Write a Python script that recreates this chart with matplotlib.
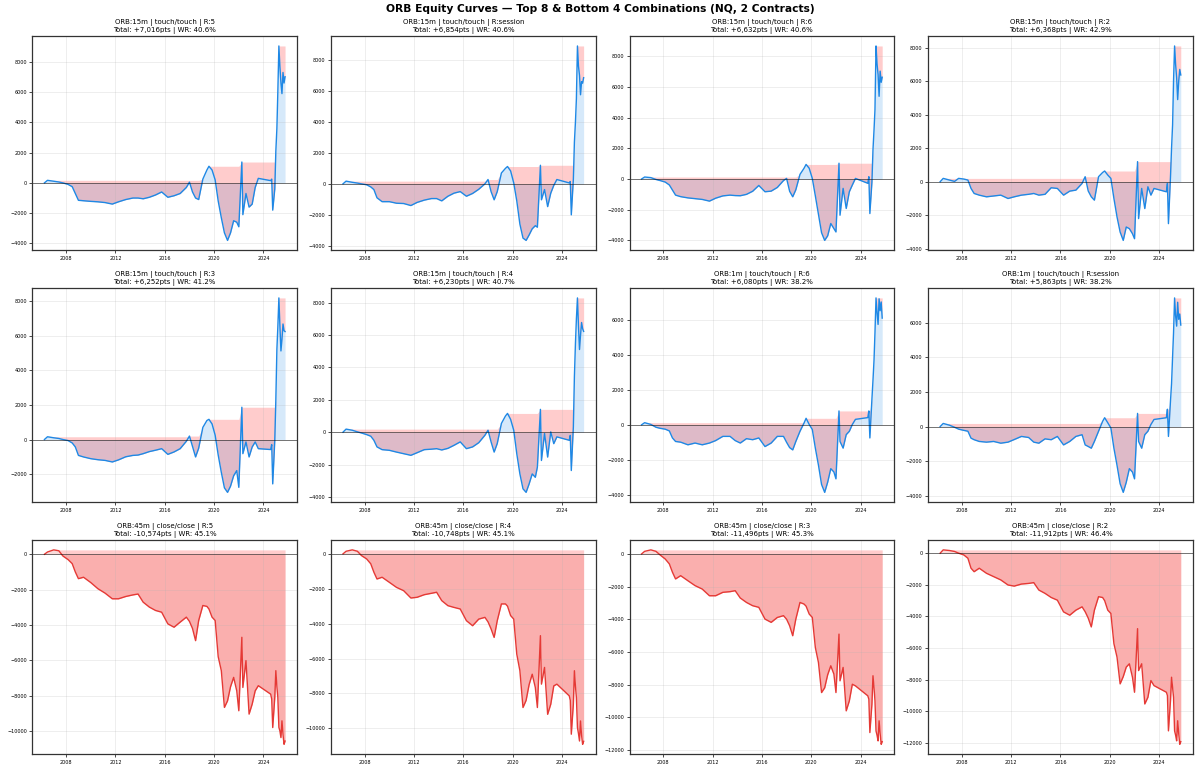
import numpy as np
import pandas as pd
import matplotlib
matplotlib.use('Agg')
import matplotlib.pyplot as plt
import matplotlib.dates as mdates

# Shared sample dates (month resolution)
dates = ['2006-04', '2006-07', '2007-01', '2007-06', '2007-10', '2008-03', '2008-07', '2008-10',
         '2009-01', '2009-06', '2010-01', '2010-08', '2011-03', '2011-10', '2012-04', '2012-11',
         '2013-06', '2013-11', '2014-04', '2014-10', '2015-04', '2015-10', '2016-04', '2016-10',
         '2017-04', '2017-10', '2018-01', '2018-04', '2018-07', '2018-10', '2019-02', '2019-06',
         '2019-08', '2019-11', '2020-02', '2020-05', '2020-08', '2020-11', '2021-02', '2021-05',
         '2021-08', '2021-11', '2022-01', '2022-04', '2022-05', '2022-08', '2022-11', '2023-02',
         '2023-05', '2023-08', '2024-08', '2024-09', '2024-10', '2024-12', '2025-01', '2025-02',
         '2025-03', '2025-04', '2025-05', '2025-06', '2025-07', '2025-08', '2025-09', '2025-10']

# Panel labels
orb = ['15m', '15m', '15m', '15m', '15m', '15m', '1m', '1m', '45m', '45m', '45m', '45m']
entry = ['touch/touch'] * 8 + ['close/close'] * 4
rr = ['5', 'session', '6', '2', '3', '4', '6', 'session', '5', '4', '3', '2']
totals = [7016, 6854, 6632, 6368, 6252, 6230, 6080, 5863, -10574, -10748, -11496, -11912]
win_rates = [40.6, 40.6, 40.6, 42.9, 41.2, 40.7, 38.2, 38.2, 45.1, 45.1, 45.3, 46.4]

# Cumulative points per panel
eq_15m_r5 = [0, 170, 110, 60, 0, -100, -250, -700, -1150, -1180, -1220, -1250, -1300, -1400, -1250, -1100,
             -1000, -1000, -1050, -950, -800, -600, -950, -850, -700, -300, 50, -600, -1000, -1100, 250, 850,
             1100, 850, 200, -1200, -2300, -3300, -3800, -3300, -2500, -2600, -2900, 1380, -2100, -700,
             -1600, -1400, -300, 300, 150, 250, -1800, -400, 2100, 3600, 6000, 9050, 7700, 6600, 5900,
             7300, 6600, 7016]
eq_15m_rsess = [0, 175, 100, 50, 0, -60, -200, -370, -900, -1150, -1150, -1250, -1270, -1400, -1200, -1050,
                -950, -950, -1100, -800, -600, -500, -800, -620, -350, 0, 280, -500, -1030, -500, 700, 1000,
                1120, 830, 60, -1100, -2600, -3500, -3650, -3300, -2900, -2700, -2800, 1200, -1030, -370,
                -1470, -600, -100, 280, 60, 150, -2000, 300, 2700, 4000, 5500, 8900, 7600, 7000, 5750,
                6600, 6500, 6854]
eq_15m_r6 = [0, 130, 90, -30, -100, -200, -390, -720, -1050, -1150, -1230, -1280, -1330, -1440, -1250, -1100,
             -1050, -1080, -1090, -1000, -800, -420, -830, -790, -550, -100, 40, -800, -1160, -700, 300, 700,
             950, 700, 40, -1100, -2300, -3500, -4000, -3700, -2900, -3230, -3450, 1030, -2360, -610,
             -1920, -830, -390, 40, -280, 150, -2250, -200, 1900, 3200, 4520, 8670, 7500, 6810, 5390,
             7030, 6300, 6632]
eq_15m_r2 = [0, 200, 100, 20, 200, 160, 100, -400, -700, -800, -900, -850, -800, -1000, -900, -800,
             -750, -700, -800, -750, -360, -400, -800, -560, -500, -100, 300, -550, -900, -1100, 300, 550,
             640, 400, 200, -1000, -2100, -3000, -3500, -2700, -2800, -3100, -3400, 1200, -2200, -400,
             -1600, -300, -800, -400, -600, -100, -2500, 300, 2000, 3400, 6000, 8100, 7000, 6200, 4900,
             6000, 6700, 6368]
eq_15m_r3 = [0, 160, 100, 60, 0, -60, -200, -430, -920, -1010, -1110, -1170, -1210, -1300, -1180, -1000,
             -920, -900, -820, -700, -620, -530, -860, -720, -530, -100, 200, -400, -1010, -500, 700, 1100,
             1170, 900, 250, -900, -1900, -2800, -3060, -2700, -2100, -1800, -2770, 1870, -820, -140,
             -1010, -430, -140, -530, -580, -300, -2570, -40, 2300, 5220, 6500, 8200, 6590, 5130, 5800,
             6690, 6300, 6252]
eq_15m_r4 = [0, 190, 120, 20, -50, -150, -250, -500, -910, -1080, -1120, -1230, -1330, -1430, -1270, -1080,
             -1050, -1020, -1100, -1000, -810, -600, -1020, -910, -650, -190, 120, -600, -1230, -700, 540, 1000,
             1160, 790, 120, -1330, -2580, -3500, -3720, -3200, -2580, -2790, -2160, 1410, -1750, -80,
             -1540, 20, -710, -290, -500, -200, -2370, 330, 3450, 5500, 7000, 8300, 6570, 5110, 6000,
             6780, 6400, 6230]
eq_1m_r6 = [0, 120, 20, -140, -200, -250, -350, -750, -950, -990, -1140, -1040, -1140, -1040, -900, -660,
            -660, -900, -1040, -790, -850, -750, -1240, -1040, -660, -660, -1000, -1300, -1430, -950, -370, 100,
            370, 20, -270, -1330, -2300, -3400, -3850, -3270, -2500, -2690, -3080, 790, -950, -1330,
            -560, -370, 20, 310, 410, 790, -750, 1470, 2530, 3690, 5240, 7230, 6400, 5720, 7180,
            6500, 7000, 6080]
eq_1m_rsess = [0, 180, 80, -40, -150, -220, -270, -670, -760, -860, -900, -860, -960, -900, -750, -570,
               -630, -900, -960, -710, -760, -570, -1060, -860, -570, -470, -1060, -1150, -1250, -860, -270, 300,
               510, 220, -80, -1250, -2240, -3300, -3800, -3220, -2430, -2630, -3020, 760, -860, -1250,
               -470, -270, 120, 410, 510, 1000, -570, 1490, 2470, 4040, 5410, 7430, 6390, 5800, 7180,
               6200, 6500, 5863]
eq_45m_r5 = [0, 130, 250, 200, -100, -300, -530, -1000, -1380, -1300, -1600, -1950, -2200, -2520, -2520, -2390,
             -2300, -2250, -2710, -2990, -3180, -3280, -3940, -4130, -3840, -3560, -3800, -4200, -4890, -3750,
             -2900, -2950, -3100, -3560, -3750, -5800, -6590, -8670, -8300, -7500, -6970, -7730, -8860, -4700,
             -7540, -6020, -9050, -8480, -7730, -7440, -7920, -8200, -9810, -8100, -6590, -7500, -8100, -9800,
             -10000, -10380, -9430, -10200, -10760, -10574]
eq_45m_r4 = [0, 150, 230, 150, -100, -290, -570, -1050, -1440, -1340, -1630, -1920, -2110, -2530, -2490, -2340,
             -2260, -2200, -2680, -2970, -3070, -3160, -3830, -4120, -3740, -3640, -3900, -4300, -4790, -3830,
             -2870, -2870, -3000, -3540, -3740, -5750, -6700, -8810, -8400, -7500, -6900, -7660, -8810, -4690,
             -7470, -6510, -9200, -8620, -7570, -7470, -8140, -8400, -10340, -8620, -6700, -7600, -8240, -9960,
             -10300, -10730, -9580, -10400, -10920, -10748]
eq_45m_r3 = [0, 160, 250, 160, -60, -310, -610, -1120, -1530, -1330, -1640, -1940, -2150, -2560, -2560, -2350,
             -2310, -2250, -2700, -2970, -3170, -3270, -3990, -4190, -3890, -3780, -4000, -4400, -5010, -3990,
             -2970, -3070, -3200, -3680, -3890, -5730, -6650, -8490, -8200, -7400, -6850, -7360, -8490, -4910,
             -7770, -6950, -9610, -9000, -7980, -8080, -8690, -8900, -10940, -9200, -7460, -8200, -9000, -10840,
             -11100, -11450, -10220, -11000, -11660, -11496]
eq_45m_r2 = [0, 210, 170, 110, 0, -110, -320, -950, -1170, -950, -1270, -1480, -1690, -2010, -2080, -1950,
             -1910, -1860, -2330, -2540, -2800, -2970, -3710, -3920, -3600, -3390, -3700, -4100, -4660, -3600,
             -2750, -2800, -3000, -3600, -3810, -5720, -6570, -8260, -7800, -7200, -6990, -7840, -8790, -4770,
             -7420, -6990, -9530, -9110, -8050, -8370, -8790, -9000, -11230, -9320, -7840, -8500, -9110, -11230,
             -11500, -11860, -10590, -11400, -12080, -11912]

curves = [eq_15m_r5, eq_15m_rsess, eq_15m_r6, eq_15m_r2, eq_15m_r3, eq_15m_r4,
          eq_1m_r6, eq_1m_rsess, eq_45m_r5, eq_45m_r4, eq_45m_r3, eq_45m_r2]

x = pd.to_datetime(dates, format='%Y-%m')

fig, axes = plt.subplots(3, 4, figsize=(12, 7.71), dpi=100)
fig.subplots_adjust(left=0.027, right=0.994, top=0.953, bottom=0.022, wspace=0.128, hspace=0.178)

for i, ax in enumerate(axes.flat):
    eq = np.array(curves[i], dtype=float)
    peak = np.maximum.accumulate(eq)
    color = '#1E88E5' if totals[i] > 0 else '#E53935'

    ax.plot(x, eq, color=color, linewidth=1.0)
    ax.fill_between(x, eq, 0, color=color, alpha=0.18, linewidth=0)
    ax.fill_between(x, eq, peak, color='red', alpha=0.2, linewidth=0)
    ax.axhline(0, color='black', linewidth=0.6, alpha=0.6)

    ax.set_title(f'ORB:{orb[i]} | {entry[i]} | R:{rr[i]}\n'
                 f'Total: {totals[i]:+,}pts | WR: {win_rates[i]}%', fontsize=5, pad=3)
    ax.grid(True, alpha=0.3, linewidth=0.5)
    ax.xaxis.set_major_locator(mdates.YearLocator(4))
    ax.xaxis.set_major_formatter(mdates.DateFormatter('%Y'))
    ax.tick_params(labelsize=3.5, length=2, width=0.5, pad=2)
    for s in ax.spines.values():
        s.set_linewidth(0.9)
        s.set_color('#333333')

fig.suptitle('ORB Equity Curves — Top 8 & Bottom 4 Combinations (NQ, 2 Contracts)',
             fontsize=7.7, fontweight='bold', y=0.995)

plt.savefig('out.png', dpi=100)
